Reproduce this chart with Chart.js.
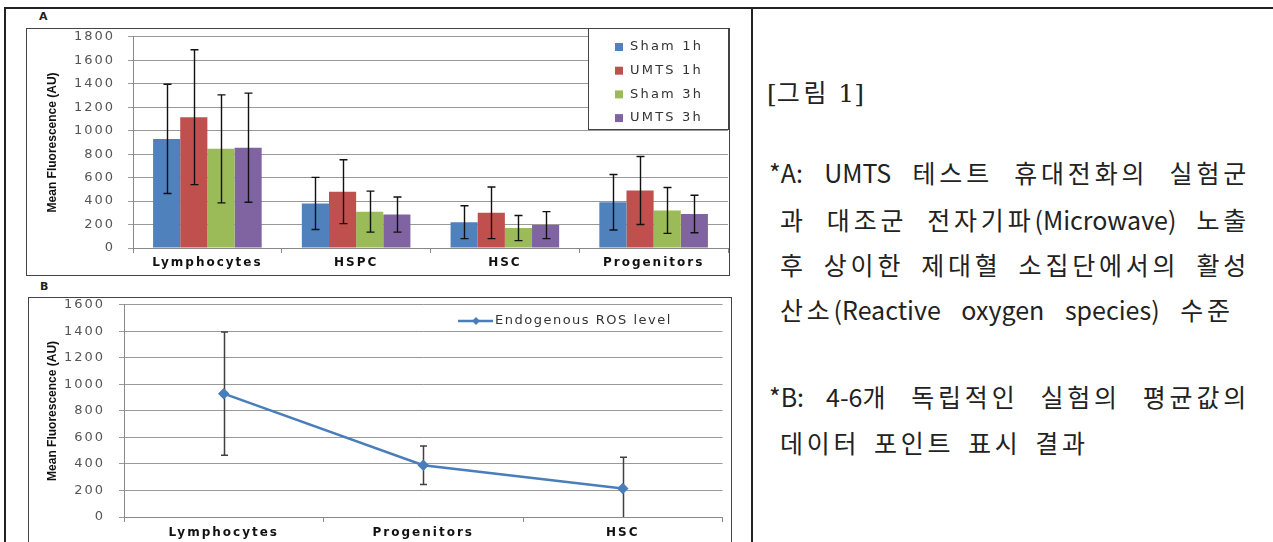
<!DOCTYPE html>
<html>
<head>
<meta charset="utf-8">
<script src="https://cdn.jsdelivr.net/npm/chart.js@4.4.1/dist/chart.umd.min.js"></script>
<style>
    body { margin: 0; width: 1273px; height: 542px; overflow: hidden; background: #fff; position: relative; }
    .rule { position: absolute; background: #222; }
    .frame { position: absolute; border: 1px solid #444; box-sizing: border-box; }
    .tag { position: absolute; font: bold 11px "DejaVu Sans", sans-serif; color: #222; }
    .txt { position: absolute; left: 780px; width: 470px; height: 46px; line-height: 46px; white-space: nowrap;
           font-family: "Noto Sans CJK KR", sans-serif; font-size: 25px; color: #222; }
    .txt .h { letter-spacing: 3.8px; }
    .just { text-align: justify; text-align-last: justify; }
    canvas { position: absolute; }
</style>
</head>
<body>
<div class="rule" style="left:5px; top:7px; width:1268px; height:2px;"></div>
<div class="rule" style="left:4px; top:7px; width:2px; height:535px;"></div>
<div class="rule" style="left:751px; top:7px; width:2px; height:535px;"></div>

<div class="tag" style="left:39px; top:10px;">A</div>
<div class="frame" style="left:26px; top:28px; width:704px; height:248px;"></div>
<canvas id="chartA" width="702" height="260" style="left:27px; top:16px;"></canvas>

<div class="tag" style="left:40px; top:280px;">B</div>
<div class="frame" style="left:28px; top:297px; width:704px; height:260px;"></div>
<canvas id="chartB" width="700" height="260" style="left:29px; top:283px;"></canvas>

<div class="txt" style="left:767px; top:71px; font-family:'DejaVu Serif','Noto Sans CJK KR',serif;">[그림 1]</div>
<div class="txt just" style="left:769px; width:481px; top:149px;">*A: UMTS 테스트 휴대전화의 실험군</div>
<div class="txt just" style="top:196px;">과 대조군 전자기파(Microwave) 노출</div>
<div class="txt just" style="top:241px;">후 상이한 제대혈 소집단에서의 활성</div>
<div class="txt" style="top:286px; word-spacing:15px;">산소(Reactive oxygen species) 수준</div>
<div class="txt just" style="left:769px; width:481px; top:373px;">*B: 4-6개 독립적인 실험의 평균값의</div>
<div class="txt" style="top:419px; word-spacing:8px;">데이터 포인트 표시 결과</div>

<script>
// chart A: bar chart with error bars
const barCategories = ['Lymphocytes', 'HSPC', 'HSC', 'Progenitors'];
const barSeries = ['Sham 1h', 'UMTS 1h', 'Sham 3h', 'UMTS 3h'];
const sham1h = [930, 380, 220, 390];
const umts1h = [1115, 480, 300, 490];
const sham3h = [845, 310, 170, 320];
const umts3h = [855, 285, 195, 290];
const sham1hErr = [465, 222, 140, 237];
const umts1hErr = [575, 272, 220, 290];
const sham3hErr = [460, 175, 107, 195];
const umts3hErr = [465, 150, 115, 160];
const barColors = ['#4F81BD', '#C0504D', '#9BBB59', '#8064A2'];
const yTicksA = [0, 200, 400, 600, 800, 1000, 1200, 1400, 1600, 1800];

// chart B: line chart
const lineCategories = ['Lymphocytes', 'Progenitors', 'HSC'];
const rosLevel = [930, 390, 215];
const rosErr = [465, 145, 235];
const yTicksB = [0, 200, 400, 600, 800, 1000, 1200, 1400, 1600];

const yTitle = 'Mean Fluorescence (AU)';

// hangul in the scan is wider than Noto's, spread it a bit
document.querySelectorAll('.txt').forEach(el => {
    el.innerHTML = el.textContent.replace(/([\uAC00-\uD7A3]+)/g, '<span class="h">$1</span>');
});

// wider letters, like the scanned figure
const spacingPlugin = {
    id: 'spacing',
    beforeDraw(chart) {
        chart.ctx.letterSpacing = '2px';
    }
};

const errorBarPlugin = {
    id: 'errorBars',
    beforeDatasetsDraw(chart, args, opts) {
        if (opts.front) return;
        drawErrors(chart, opts);
    },
    afterDatasetsDraw(chart, args, opts) {
        if (!opts.front) return;
        drawErrors(chart, opts);
    }
};

function drawErrors(chart, opts) {
    const ctx = chart.ctx;
    const y = chart.scales.y;
    ctx.save();
    ctx.strokeStyle = opts.color;
    ctx.lineWidth = opts.width;
    chart.data.datasets.forEach((ds, i) => {
        const meta = chart.getDatasetMeta(i);
        meta.data.forEach((el, j) => {
            const v = ds.data[j];
            const e = opts.errors[i][j];
            const top = y.getPixelForValue(v + e);
            const bot = y.getPixelForValue(Math.max(v - e, y.min));
            const x = Math.round(el.x) + 0.5;
            ctx.beginPath();
            ctx.moveTo(x, top);
            ctx.lineTo(x, bot);
            ctx.moveTo(x - opts.cap, top);
            ctx.lineTo(x + opts.cap, top);
            if (v - e >= y.min) {
                ctx.moveTo(x - opts.cap, bot);
                ctx.lineTo(x + opts.cap, bot);
            }
            ctx.stroke();
        });
    });
    ctx.restore();
}

const yTitlePlugin = {
    id: 'yTitle',
    afterDraw(chart, args, opts) {
        const ctx = chart.ctx;
        const area = chart.chartArea;
        ctx.save();
        ctx.letterSpacing = '0px';
        ctx.translate(opts.x, (area.top + area.bottom) / 2);
        ctx.rotate(-Math.PI / 2);
        ctx.font = 'bold 12px "Liberation Sans Narrow", "Liberation Sans", sans-serif';
        ctx.fillStyle = '#111';
        ctx.textAlign = 'center';
        ctx.textBaseline = 'middle';
        ctx.fillText(opts.text, 0, 0);
        ctx.restore();
    }
};

// legend A: boxed, square swatches
const boxLegendPlugin = {
    id: 'boxLegend',
    afterDraw(chart, args, opts) {
        if (!opts.show) return;
        const ctx = chart.ctx;
        ctx.save();
        ctx.fillStyle = '#fff';
        ctx.fillRect(opts.x, opts.y, opts.w, opts.h);
        ctx.strokeStyle = '#444';
        ctx.lineWidth = 1;
        ctx.strokeRect(opts.x + 0.5, opts.y + 0.5, opts.w, opts.h);
        ctx.font = '13px "DejaVu Sans", sans-serif';
        ctx.letterSpacing = '2.2px';
        ctx.textBaseline = 'middle';
        chart.data.datasets.forEach((ds, i) => {
            const cy = opts.rowY + i * opts.rowGap;
            ctx.fillStyle = ds.backgroundColor;
            ctx.fillRect(opts.swatchX - 4, cy - 4, 8, 8);
            ctx.fillStyle = '#333';
            ctx.fillText(ds.label, opts.textX, cy);
        });
        ctx.restore();
    }
};

// legend B: line sample with diamond
const lineLegendPlugin = {
    id: 'lineLegend',
    afterDraw(chart, args, opts) {
        if (!opts.show) return;
        const ctx = chart.ctx;
        const ds = chart.data.datasets[0];
        ctx.save();
        ctx.strokeStyle = ds.borderColor;
        ctx.lineWidth = 2.5;
        ctx.beginPath();
        ctx.moveTo(opts.x, opts.y);
        ctx.lineTo(opts.x + 35, opts.y);
        ctx.stroke();
        ctx.fillStyle = ds.borderColor;
        ctx.beginPath();
        const cx = opts.x + 18;
        ctx.moveTo(cx, opts.y - 4);
        ctx.lineTo(cx + 4, opts.y);
        ctx.lineTo(cx, opts.y + 4);
        ctx.lineTo(cx - 4, opts.y);
        ctx.closePath();
        ctx.fill();
        ctx.font = '13px "DejaVu Sans", sans-serif';
        ctx.letterSpacing = '1.5px';
        ctx.textBaseline = 'middle';
        ctx.fillStyle = '#333';
        ctx.fillText(ds.label, opts.x + 37, opts.y);
        ctx.restore();
    }
};

const tickFont = { family: 'DejaVu Sans', size: 13 };
const catFont = { family: 'DejaVu Sans', size: 12, weight: 'bold' };
const plainNumber = v => String(v);

new Chart(document.getElementById('chartA'), {
    type: 'bar',
    data: {
        labels: barCategories,
        datasets: [
            { label: barSeries[0], data: sham1h, backgroundColor: barColors[0] },
            { label: barSeries[1], data: umts1h, backgroundColor: barColors[1] },
            { label: barSeries[2], data: sham3h, backgroundColor: barColors[2] },
            { label: barSeries[3], data: umts3h, backgroundColor: barColors[3] }
        ]
    },
    options: {
        responsive: false,
        animation: false,
        events: [],
        categoryPercentage: 0.73,
        barPercentage: 1.0,
        layout: { padding: { top: 8, right: 1, left: 0, bottom: 0 } },
        plugins: {
            legend: { display: false },
            tooltip: { enabled: false },
            errorBars: { errors: [sham1hErr, umts1hErr, sham3hErr, umts3hErr], color: '#111', width: 1.4, cap: 4, front: true },
            yTitle: { text: yTitle, x: 26 },
            boxLegend: { show: true, x: 561, y: 12, w: 140, h: 101, rowY: 31, rowGap: 23.7, swatchX: 592, textX: 603 }
        },
        scales: {
            x: {
                grid: { drawOnChartArea: false, drawTicks: true, tickLength: 5, color: '#888', offset: true },
                border: { color: '#888' },
                ticks: { color: '#111', font: catFont, padding: 3, maxRotation: 0 },
                afterFit: s => { s.height = 28; }
            },
            y: {
                min: yTicksA[0],
                max: yTicksA[yTicksA.length - 1],
                ticks: { stepSize: yTicksA[1] - yTicksA[0], color: '#555', font: tickFont, padding: 13, callback: plainNumber },
                grid: { color: '#999', tickLength: 5 },
                border: { color: '#888' },
                afterFit: s => { s.width = 106; }
            }
        }
    },
    plugins: [spacingPlugin, errorBarPlugin, yTitlePlugin, boxLegendPlugin]
});

new Chart(document.getElementById('chartB'), {
    type: 'line',
    data: {
        labels: lineCategories,
        datasets: [{
            label: 'Endogenous ROS level',
            data: rosLevel,
            borderColor: '#4A7EBB',
            backgroundColor: '#4A7EBB',
            borderWidth: 2.5,
            pointStyle: 'rectRot',
            pointRadius: 4,
            tension: 0
        }]
    },
    options: {
        responsive: false,
        animation: false,
        events: [],
        layout: { padding: { top: 8, right: 1, left: 0, bottom: 0 } },
        plugins: {
            legend: { display: false },
            tooltip: { enabled: false },
            errorBars: { errors: [rosErr], color: '#404040', width: 1.5, cap: 3.5, front: false },
            yTitle: { text: yTitle, x: 24 },
            lineLegend: { show: true, x: 429, y: 38 }
        },
        scales: {
            x: {
                offset: true,
                grid: { drawOnChartArea: false, drawTicks: true, tickLength: 5, color: '#888', offset: true },
                border: { color: '#888' },
                ticks: { color: '#111', font: catFont, padding: 4, maxRotation: 0 },
                afterFit: s => { s.height = 26; }
            },
            y: {
                min: yTicksB[0],
                max: yTicksB[yTicksB.length - 1],
                ticks: { stepSize: yTicksB[1] - yTicksB[0], color: '#555', font: tickFont, padding: 14, callback: plainNumber },
                grid: { color: '#999', tickLength: 5 },
                border: { color: '#888' },
                afterFit: s => { s.width = 95; }
            }
        }
    },
    plugins: [spacingPlugin, errorBarPlugin, yTitlePlugin, lineLegendPlugin]
});
</script>
</body>
</html>
